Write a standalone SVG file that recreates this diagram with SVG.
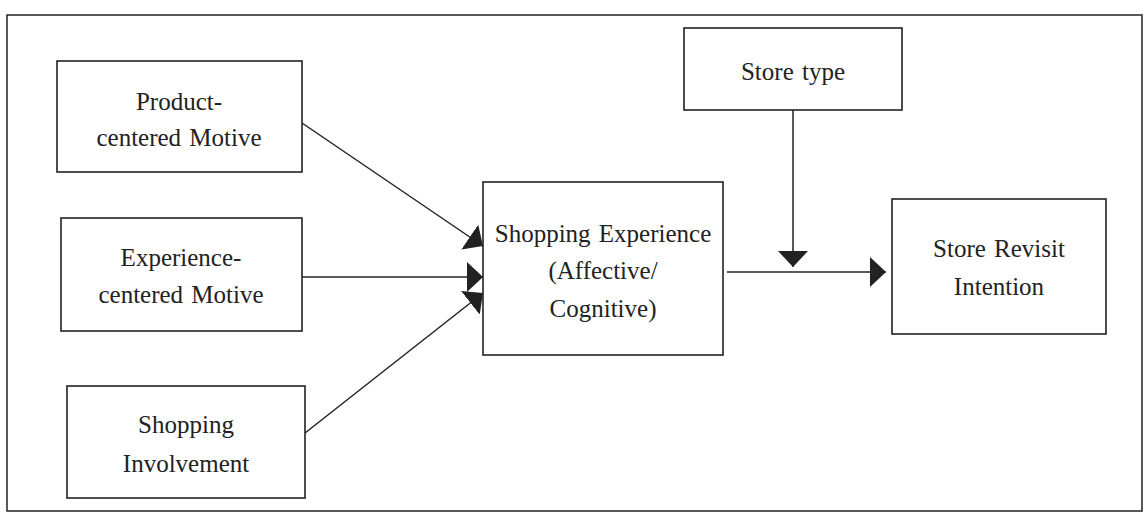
<svg xmlns="http://www.w3.org/2000/svg" width="1146" height="512" viewBox="0 0 1146 512">
<defs>
<style>
.box{fill:#fff;stroke:#222;stroke-width:1.6}
.frame{fill:none;stroke:#222;stroke-width:1.5}
.t{font-family:"Liberation Serif","Times New Roman",serif;font-size:25px;fill:#222;text-anchor:middle;word-spacing:2px}
.c{stroke:#222;stroke-width:1.5;fill:none;marker-end:url(#ah)}
</style>
<marker id="ah" viewBox="0 0 16 30" refX="16" refY="15" markerWidth="16" markerHeight="30" markerUnits="userSpaceOnUse" orient="auto">
<path d="M0,0 L16,15 L0,30 z" fill="#222"/>
</marker>
</defs>
<rect width="1146" height="512" fill="#fff"/>
<rect class="frame" x="7" y="15" width="1135" height="496"/>
<g id="product">
<rect class="box" x="57" y="61" width="245" height="111"/>
<text class="t" x="179" y="110">Product-</text>
<text class="t" x="179" y="146">centered Motive</text>
</g>
<g id="experience">
<rect class="box" x="61" y="218" width="241" height="113"/>
<text class="t" x="181" y="266">Experience-</text>
<text class="t" x="181" y="303">centered Motive</text>
</g>
<g id="involvement">
<rect class="box" x="67" y="386" width="238" height="112"/>
<text class="t" x="186" y="433">Shopping</text>
<text class="t" x="186" y="472">Involvement</text>
</g>
<g id="shopexp">
<rect class="box" x="483" y="182" width="240" height="173"/>
<text class="t" x="603" y="242">Shopping Experience</text>
<text class="t" x="603" y="279">(Affective/</text>
<text class="t" x="603" y="317">Cognitive)</text>
</g>
<g id="storetype">
<rect class="box" x="684" y="28" width="218" height="82"/>
<text class="t" x="793" y="80">Store type</text>
</g>
<g id="revisit">
<rect class="box" x="892" y="199" width="214" height="135"/>
<text class="t" x="999" y="257">Store Revisit</text>
<text class="t" x="999" y="295">Intention</text>
</g>
<g id="connectors">
<line class="c" x1="302" y1="123" x2="483" y2="246"/>
<line class="c" x1="302" y1="277" x2="483" y2="277"/>
<line class="c" x1="305" y1="433" x2="483" y2="293"/>
<line class="c" x1="727" y1="272" x2="886" y2="272"/>
<line class="c" x1="793" y1="110" x2="793" y2="267"/>
</g>
</svg>
